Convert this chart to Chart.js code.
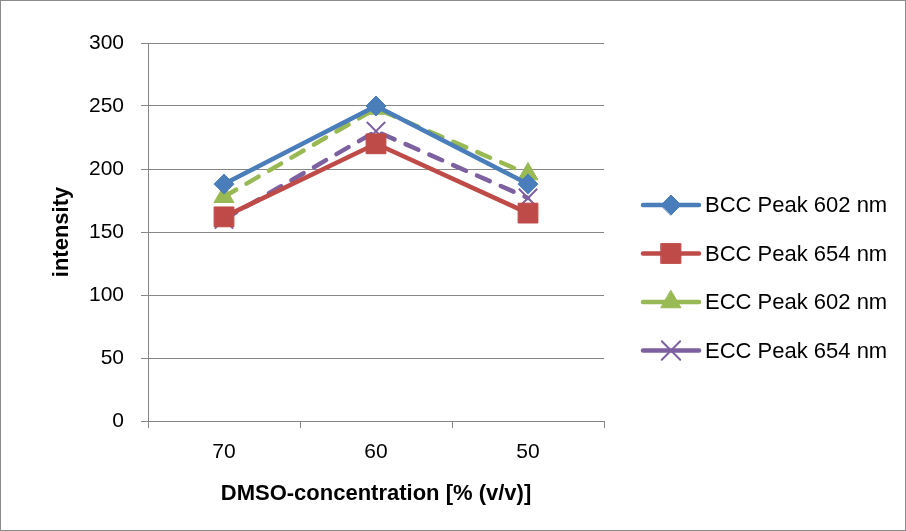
<!DOCTYPE html>
<html>
<head>
<meta charset="utf-8">
<script src="https://cdn.jsdelivr.net/npm/chart.js@4/dist/chart.umd.min.js"></script>
<style>
  html, body { margin: 0; padding: 0; background: #fff; }
  #wrap { width: 906px; height: 531px; position: relative; box-sizing: border-box; border: 1px solid #8c8c8c; }
  canvas { display: block; }
</style>
</head>
<body>
<div id="wrap"><canvas id="lineChart" width="904" height="529"></canvas></div>
<script>
(function() {
  'use strict';

  // concentrations along the x axis
  var categories = ['70', '60', '50'];
  var yTicks = [0, 50, 100, 150, 200, 250, 300];

  var bcc602 = [188, 250, 188];
  var bcc654 = [162, 220, 165];
  var ecc602 = [178, 248, 196];
  var ecc654 = [160, 230, 177];

  var seriesNames = ['BCC Peak 602 nm', 'BCC Peak 654 nm', 'ECC Peak 602 nm', 'ECC Peak 654 nm'];

  var fontFamily = "'Liberation Sans', Arial, sans-serif";

  function series(label, data, color, style, radius, dash) {
    return {
      label: label,
      data: data,
      borderColor: color,
      backgroundColor: color,
      pointBorderColor: color,
      pointBackgroundColor: color,
      pointStyle: style,
      pointRadius: radius,
      pointHoverRadius: radius,
      pointBorderWidth: style === 'crossRot' ? 2 : 1,
      borderWidth: 4.5,
      borderDash: dash || [],
      borderCapStyle: 'round',
      borderJoinStyle: 'round',
      tension: 0,
      fill: false
    };
  }

  var datasets = [
    series(seriesNames[0], bcc602, '#4a7ebb', 'rectRot', 10),
    series(seriesNames[1], bcc654, '#be4b48', 'rect', 14),
    series(seriesNames[2], ecc602, '#98b954', 'triangle', 11.5, [14, 12]),
    series(seriesNames[3], ecc654, '#7d60a0', 'crossRot', 13, [14, 12])
  ];

  // legend on the right: short line with the marker in the middle
  var sideLegend = {
    id: 'sideLegend',
    afterDraw: function(chart) {
      var ctx = chart.ctx;
      var area = chart.chartArea;
      var x0 = area.right + 39;
      var x1 = x0 + 56;
      ctx.save();
      chart.data.datasets.forEach(function(ds, i) {
        var y = 204 + i * 48.5;
        ctx.strokeStyle = ds.borderColor;
        ctx.lineWidth = 4.5;
        ctx.lineCap = 'round';
        ctx.setLineDash([]);
        ctx.beginPath();
        ctx.moveTo(x0, y);
        ctx.lineTo(x1, y);
        ctx.stroke();
        ctx.fillStyle = ds.backgroundColor;
        ctx.lineWidth = ds.pointBorderWidth;
        Chart.helpers.drawPoint(ctx, {
          pointStyle: ds.pointStyle,
          radius: ds.pointRadius,
          rotation: 0,
          borderWidth: ds.pointBorderWidth
        }, (x0 + x1) / 2, y);
        ctx.fillStyle = '#000';
        ctx.font = '22px ' + fontFamily;
        ctx.textBaseline = 'middle';
        ctx.fillText(ds.label, x1 + 6, y + 1);
      });
      ctx.restore();
    }
  };

  var ctx = document.getElementById('lineChart').getContext('2d');

  new Chart(ctx, {
    type: 'line',
    data: { labels: categories, datasets: datasets },
    plugins: [sideLegend],
    options: {
      responsive: false,
      animation: false,
      layout: { padding: { top: 42, right: 301, left: 0, bottom: 0 } },
      plugins: {
        legend: { display: false },
        tooltip: { enabled: false }
      },
      scales: {
        x: {
          offset: true,
          afterFit: function(scale) { scale.height = 109; },
          grid: {
            offset: true,
            drawOnChartArea: false,
            drawTicks: true,
            tickLength: 7,
            color: '#868686'
          },
          border: { color: '#868686', width: 1 },
          ticks: {
            padding: 12,
            color: '#000',
            font: { family: fontFamily, size: 21 }
          },
          title: {
            display: true,
            text: 'DMSO-concentration [% (v/v)]',
            color: '#000',
            font: { family: fontFamily, size: 22, weight: 'bold' },
            padding: { bottom: 23 }
          }
        },
        y: {
          min: 0,
          max: 300,
          afterFit: function(scale) { scale.width = 147; },
          afterBuildTicks: function(scale) {
            scale.ticks = yTicks.map(function(v) { return { value: v }; });
          },
          grid: {
            color: '#868686',
            tickLength: 7,
            lineWidth: 1
          },
          border: { color: '#868686', width: 1 },
          ticks: {
            padding: 17,
            color: '#000',
            font: { family: fontFamily, size: 21 }
          },
          title: {
            display: true,
            text: 'intensity',
            color: '#000',
            font: { family: fontFamily, size: 22, weight: 'bold' },
            padding: { top: 48 }
          }
        }
      }
    }
  });
})();
</script>
</body>
</html>
